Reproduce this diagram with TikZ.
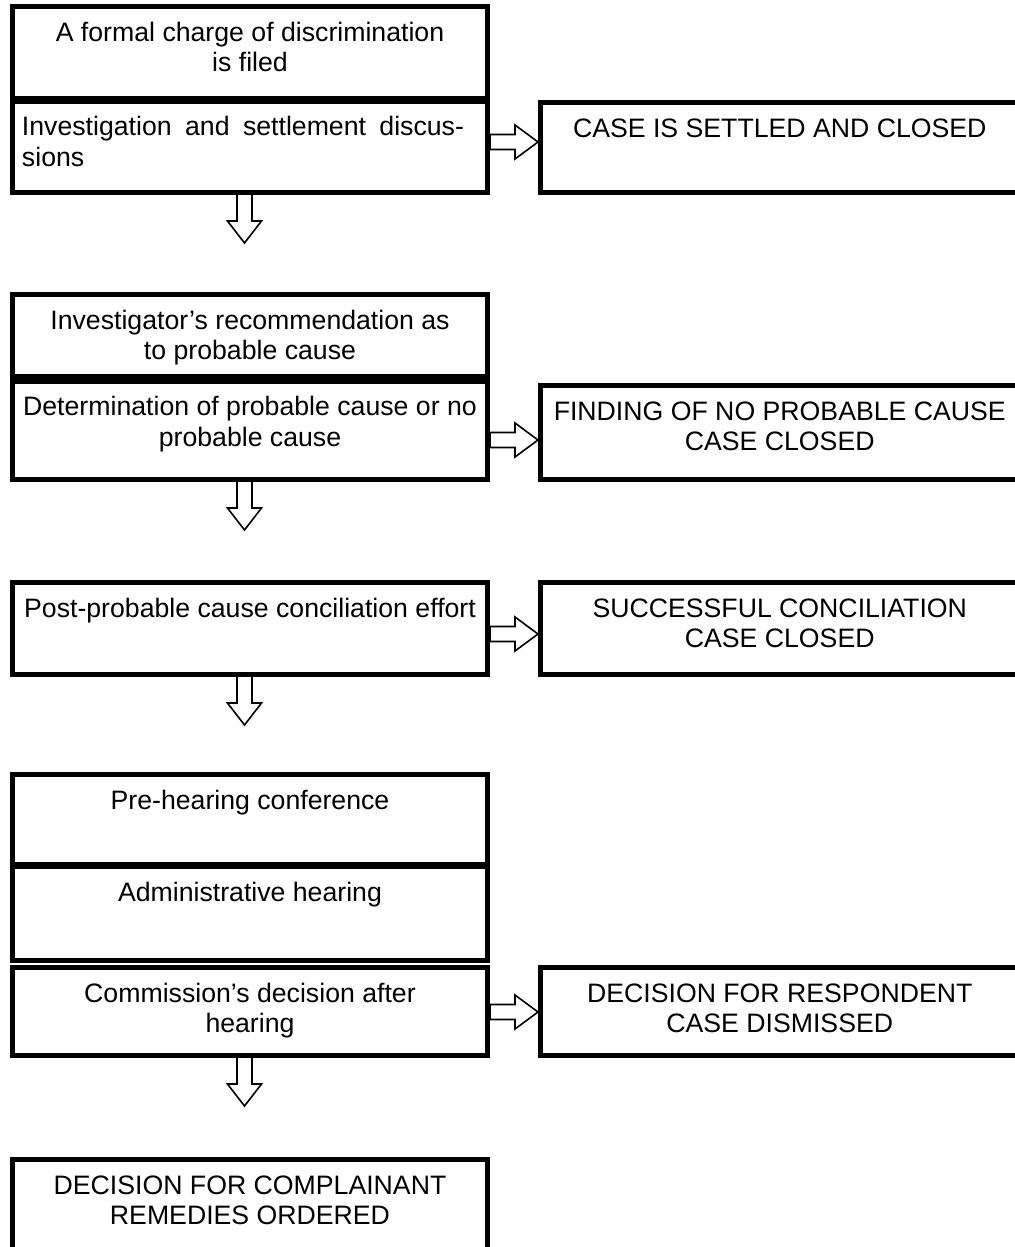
\documentclass[tikz,border=0pt]{standalone}
\usepackage{fontspec}
\setmainfont{Liberation Sans}
\usetikzlibrary{calc}
\newcommand{\bt}[2]{\parbox[c][#1][t]{470bp}{\fontsize{26.67bp}{30.67bp}\selectfont\centering\rule{0pt}{34.5bp}#2\par}}
\newcommand{\btj}[2]{\parbox[c][#1][t]{456bp}{\fontsize{26.67bp}{30.67bp}\selectfont\parindent=0pt\rightskip=14bp\parfillskip=0pt plus 1fil\rule{0pt}{34.5bp}#2\par}}
\tikzset{
  box/.style={draw=black, line width=5bp, inner sep=0pt, minimum width=475bp},
  rbox/.style={box, minimum width=478.5bp},
  blockarrow/.style={draw=black, line width=1.6bp, fill=white, line join=miter},
}
\newcommand{\harrow}[3]{%
  \coordinate (hs) at (#1.east |- 0,#3);
  \coordinate (ht) at (#2.west |- 0,#3);
  \draw[blockarrow] ($(hs)+(0,7.5)$) -- ($(ht)+(-23,7.5)$) -- ($(ht)+(-23,17)$) -- (ht)
     -- ($(ht)+(-23,-17)$) -- ($(ht)+(-23,-7.5)$) -- ($(hs)+(0,-7.5)$) -- cycle;}
\newcommand{\darrow}[2]{%
  \coordinate (#2) at ($(#1.south)+(-5.5,48)$);
  \draw[blockarrow] ($(#1.south)+(-13,0)$) -- ($(#2)+(-7.5,-22)$) -- ($(#2)+(-17,-22)$) -- (#2)
     -- ($(#2)+(17,-22)$) -- ($(#2)+(7.5,-22)$) -- ($(#1.south)+(2,0)$);}
\begin{document}
\begin{tikzpicture}[x=1bp, y=-1bp]
\useasboundingbox (0,0) rectangle (1015,1247);
\clip (0,0) rectangle (1015,1247);
\fill[white] (0,0) rectangle (1015,1247);
% left column
\node[box] (a1) at (250,52.25) {\bt{91.5bp}{A formal charge of discrimination\\is filed}};
\node[box] (a2) at (250,146.75) {\btj{91.5bp}{Investigation and settlement discus-\linebreak sions}};
\node[box] (a3) at (250,335.5) {\bt{82bp}{Investigator’s recommendation as\\to probable cause}};
\node[box] (a4) at (250,430.25) {\bt{98.5bp}{Determination of probable cause or no\\probable cause}};
\node[box] (a5) at (250,628.5) {\bt{92bp}{Post-probable cause conciliation effort}};
\node[box] (a6) at (250,819.25) {\bt{89.5bp}{Pre-hearing conference}};
\node[box] (a7) at (250,913.5) {\bt{94bp}{Administrative hearing}};
\node[box] (a8) at (250,1011.5) {\bt{88bp}{Commission’s decision after\\hearing}};
\node[box] (a9) at (250,1207.25) {\bt{95.5bp}{DECISION FOR COMPLAINANT\\REMEDIES ORDERED}};
% right column
\node[rbox] (r1) at (779.75,147.5) {\bt{90bp}{CASE IS SETTLED AND CLOSED}};
\node[rbox] (r2) at (779.75,432.5) {\bt{94bp}{FINDING OF NO PROBABLE CAUSE\\CASE CLOSED}};
\node[rbox] (r3) at (779.75,628.5) {\bt{92bp}{SUCCESSFUL CONCILIATION\\CASE CLOSED}};
\node[rbox] (r4) at (779.75,1011.5) {\bt{88bp}{DECISION FOR RESPONDENT\\CASE DISMISSED}};
% arrows
\harrow{a2}{r1}{142}
\harrow{a4}{r2}{440}
\harrow{a5}{r3}{634}
\harrow{a8}{r4}{1012}
\darrow{a2}{d1}
\darrow{a4}{d2}
\darrow{a5}{d3}
\darrow{a8}{d4}
\end{tikzpicture}
\end{document}
